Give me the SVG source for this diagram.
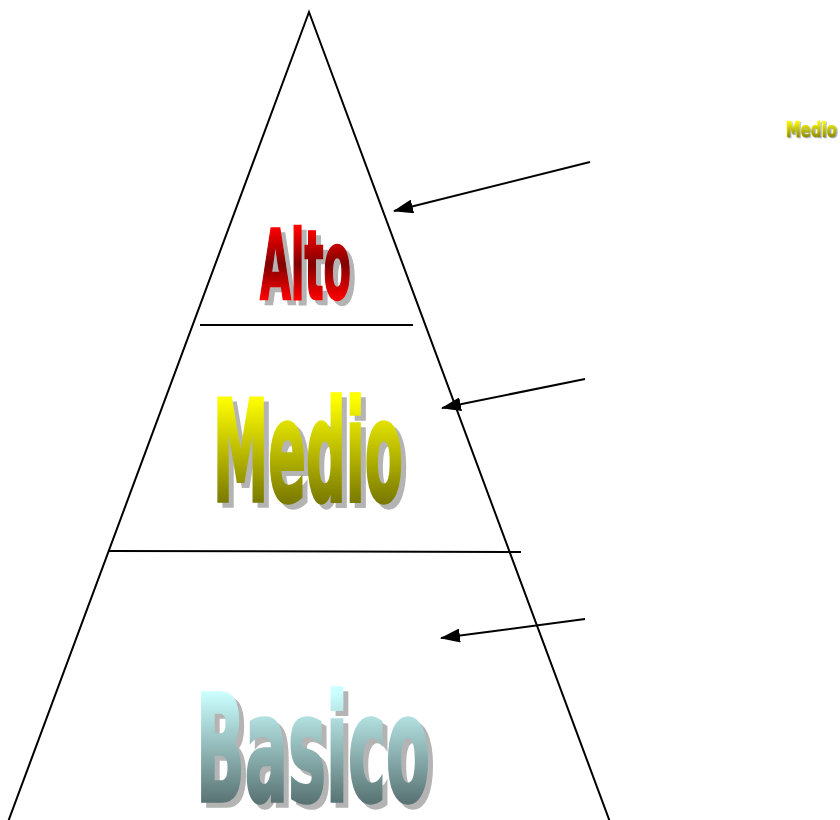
<svg xmlns="http://www.w3.org/2000/svg" width="840" height="820" viewBox="0 0 840 820">
<style>
.ln{stroke:#000;stroke-width:2;fill:none}
.wa{font-family:"DejaVu Sans",sans-serif;font-weight:bold}
.sh{fill:#b4b4b4;stroke:#b4b4b4}
</style>
<defs>
<marker id="a2" viewBox="0 0 20 14" refX="19" refY="7" markerWidth="20" markerHeight="14" orient="auto" markerUnits="userSpaceOnUse">
<path d="M0,0 L20,7 L0,14 Z" fill="#000"/>
</marker>
<linearGradient id="gAlto" gradientUnits="userSpaceOnUse" x1="0" y1="228" x2="0" y2="300">
<stop offset="0" stop-color="#ff0000"/><stop offset="0.5" stop-color="#800000"/><stop offset="1" stop-color="#ff0000"/>
</linearGradient>
<linearGradient id="gMedio" gradientUnits="userSpaceOnUse" x1="0" y1="398" x2="0" y2="502">
<stop offset="0" stop-color="#ffff00"/><stop offset="1" stop-color="#7a7a00"/>
</linearGradient>
<linearGradient id="gBas" gradientUnits="userSpaceOnUse" x1="0" y1="692" x2="0" y2="802">
<stop offset="0" stop-color="#ccffff"/><stop offset="1" stop-color="#5a7474"/>
</linearGradient>
<linearGradient id="gSm" gradientUnits="userSpaceOnUse" x1="0" y1="121" x2="0" y2="137">
<stop offset="0" stop-color="#ffff00"/><stop offset="1" stop-color="#8a8a00"/>
</linearGradient>
</defs>
<g id="pyramid">
<path class="ln" d="M8,822 L309,12 L610,822"/>
<line class="ln" x1="200" y1="325" x2="413" y2="325"/>
<line class="ln" x1="108" y1="551" x2="521" y2="552"/>
</g>
<g id="connectors">
<line class="ln" x1="590" y1="162" x2="394" y2="211" marker-end="url(#a2)"/>
<line class="ln" x1="585" y1="379" x2="442" y2="408" marker-end="url(#a2)"/>
<line class="ln" x1="585" y1="619" x2="441" y2="638" marker-end="url(#a2)"/>
</g>
<g id="alto">
<text class="wa sh" x="265" y="304" font-size="97" stroke-width="2.5" textLength="91" lengthAdjust="spacingAndGlyphs">Alto</text>
<text class="wa" x="260" y="299" font-size="97" stroke-width="2.5" textLength="91" lengthAdjust="spacingAndGlyphs" fill="url(#gAlto)" stroke="url(#gAlto)">Alto</text>
</g>
<g id="medio">
<text class="wa sh" x="218" y="506" font-size="140" stroke-width="3.5" textLength="190" lengthAdjust="spacingAndGlyphs">Medio</text>
<text class="wa" x="213" y="501" font-size="140" stroke-width="3.5" textLength="190" lengthAdjust="spacingAndGlyphs" fill="url(#gMedio)" stroke="url(#gMedio)">Medio</text>
</g>
<g id="basico">
<text class="wa sh" x="201" y="806" font-size="148" stroke-width="3.5" textLength="234" lengthAdjust="spacingAndGlyphs">Basico</text>
<text class="wa" x="196" y="801" font-size="148" stroke-width="3.5" textLength="234" lengthAdjust="spacingAndGlyphs" fill="url(#gBas)" stroke="url(#gBas)">Basico</text>
</g>
<g id="medio-small">
<text class="wa sh" x="787" y="138" font-size="22" stroke-width="0.6" textLength="51" lengthAdjust="spacingAndGlyphs">Medio</text>
<text class="wa" x="786" y="137" font-size="22" stroke-width="0.6" textLength="51" lengthAdjust="spacingAndGlyphs" fill="url(#gSm)" stroke="url(#gSm)">Medio</text>
</g>
</svg>
